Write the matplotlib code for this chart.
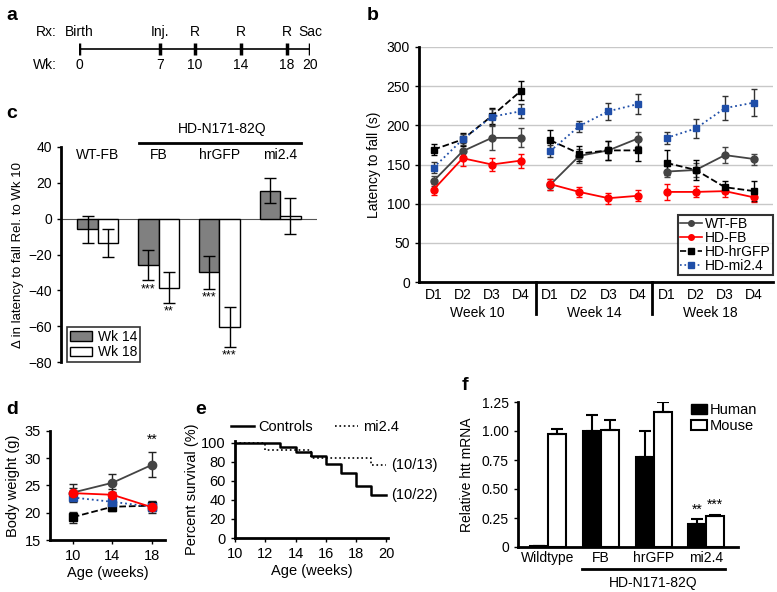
import numpy as np
import matplotlib
matplotlib.use("Agg")
import matplotlib.pyplot as plt
from matplotlib.patches import Patch
from matplotlib.lines import Line2D

plt.rcParams['font.family'] = ['Liberation Sans', 'DejaVu Sans']
plt.rcParams['font.size'] = 10

# ---- data ----
# a: timeline
tl_weeks = [0, 7, 10, 14, 18, 20]
tl_rx = ['Birth', 'Inj.', 'R', 'R', 'R', 'Sac']

# b: rotarod latency, 3 weeks x 4 days
b_days = ['D1', 'D2', 'D3', 'D4'] * 3
b_weeks = ['Week 10', 'Week 14', 'Week 18']
b_wt = [129, 167, 184, 184, 124, 161, 168, 183, 141, 143, 162, 157]
b_wt_err = [6, 10, 15, 12, 7, 9, 12, 9, 7, 9, 10, 7]
b_fb = [118, 158, 150, 155, 125, 115, 107, 110, 115, 115, 116, 108]
b_fb_err = [7, 10, 8, 9, 7, 6, 7, 7, 10, 7, 7, 6]
b_gfp = [169, 182, 212, 244, 181, 164, 168, 168, 152, 143, 121, 116]
b_gfp_err = [7, 8, 10, 12, 13, 9, 12, 13, 16, 13, 8, 13]
b_mi = [146, 182, 211, 218, 167, 199, 218, 227, 184, 196, 222, 229]
b_mi_err = [7, 7, 10, 9, 8, 7, 11, 13, 8, 12, 15, 17]

# c: change in latency rel. to wk 10
c_groups = ['WT-FB', 'FB', 'hrGFP', 'mi2.4']
c_wk14 = [-6, -26, -30, 15.5]
c_wk14_err = [7.5, 8.5, 9, 7]
c_wk18 = [-13.5, -38.5, -60.5, 1.5]
c_wk18_err = [8, 8.5, 11, 10]
c_stars14 = ['', '***', '***', '']
c_stars18 = ['', '**', '***', '']

# d: body weight
d_age = [10, 14, 18]
d_wt = [23.7, 25.5, 28.8]
d_wt_err = [1.6, 1.7, 2.3]
d_fb = [23.6, 23.3, 21.0]
d_fb_err = [1.0, 1.0, 1.0]
d_gfp = [19.2, 21.1, 21.3]
d_gfp_err = [1.0, 0.8, 0.8]
d_mi = [22.8, 22.0, 21.1]
d_mi_err = [0.8, 0.8, 0.8]

# e: survival
e_ctl_t = [10, 13, 14, 15, 16, 17, 18, 19, 20]
e_ctl_s = [100, 95.5, 90.9, 86.4, 77.3, 68.2, 54.5, 45.5, 45.5]
e_mi_t = [10, 12, 15, 19, 20]
e_mi_s = [100, 92.3, 84.6, 76.9, 76.9]

# f: relative htt mRNA
f_groups = ['Wildtype', 'FB', 'hrGFP', 'mi2.4']
f_human = [0.01, 1.00, 0.78, 0.20]
f_human_err = [0.0, 0.14, 0.22, 0.04]
f_mouse = [0.975, 1.01, 1.16, 0.265]
f_mouse_err = [0.04, 0.085, 0.09, 0.015]

W, H = 777, 592
fig = plt.figure(figsize=(W / 100, H / 100), dpi=100)


def px_axes(left, right, top, bottom):
    return fig.add_axes([left / W, (H - bottom) / H, (right - left) / W, (bottom - top) / H])


def panel_label(x, y, s):
    fig.text(x / W, 1 - y / H, s, fontsize=14, fontweight='bold', va='center', ha='left')


# ---- a ----
axa = px_axes(79, 310, 28, 70)
axa.set_xlim(0, 20)
axa.set_ylim(0, 1)
axa.axis('off')
axa.plot([0, 20], [0.5, 0.5], color='black', lw=1.2)
for w, r in zip(tl_weeks, tl_rx):
    axa.plot([w, w], [0.36, 0.64], color='black', lw=2.5, solid_capstyle='butt')
    axa.text(w, 0.9, r, ha='center', va='center')
    axa.text(w, 0.12, str(w), ha='center', va='center')
axa.text(-1.9, 0.9, 'Rx:', ha='right', va='center', clip_on=False)
axa.text(-1.9, 0.12, 'Wk:', ha='right', va='center', clip_on=False)
panel_label(6, 16, 'a')

# ---- b ----
axb = px_axes(419, 773, 47, 282)
x = np.arange(12)
styles = [
    ('WT-FB', b_wt, b_wt_err, '#444444', 'o', '-', '#444444'),
    ('HD-FB', b_fb, b_fb_err, '#ff0000', 'o', '-', '#ff0000'),
    ('HD-hrGFP', b_gfp, b_gfp_err, '#000000', 's', '--', '#000000'),
    ('HD-mi2.4', b_mi, b_mi_err, '#1f4ea8', 's', ':', '#333333'),
]
for name, vals, errs, col, mk, ls, ec in styles:
    vals = np.array(vals)
    errs = np.array(errs)
    for k in range(3):
        sl = slice(4 * k, 4 * k + 4)
        axb.errorbar(x[sl], vals[sl], yerr=errs[sl], color=col, marker=mk, ms=5,
                     ls=ls, lw=1.3, ecolor=ec, elinewidth=1, capsize=2.5, zorder=3)
axb.set_xlim(-0.5, 11.65)
axb.set_ylim(0, 300)
axb.set_yticks(range(0, 301, 50))
axb.yaxis.grid(True, color='#c8c8c8', lw=1)
axb.set_axisbelow(True)
axb.set_xticks(x)
axb.set_xticklabels(b_days)
axb.tick_params(axis='x', length=0, pad=4)
axb.tick_params(axis='y', length=3, width=1)
for s in ['top', 'right']:
    axb.spines[s].set_visible(False)
for s in ['left', 'bottom']:
    axb.spines[s].set_linewidth(2)
axb.set_ylabel('Latency to fall (s)', labelpad=4)
tb = axb.get_xaxis_transform()
for sep in [3.5, 7.5]:
    axb.plot([sep, sep], [0, -0.135], color='black', lw=2, transform=tb, clip_on=False)
for k, wl in enumerate(b_weeks):
    axb.text(4 * k + 1.5, -0.13, wl, ha='center', va='center', transform=tb)
handles = [Line2D([], [], color=c, marker=m, ls=l, ms=4, lw=1.2) for _, _, _, c, m, l, _ in styles]
leg = axb.legend(handles, [s[0] for s in styles], loc='lower right', bbox_to_anchor=(1.0, 0.03),
                 fontsize=10, frameon=True, fancybox=False, edgecolor='black', borderpad=0.15,
                 labelspacing=0.0, handlelength=1.6, handletextpad=0.2, borderaxespad=0)
leg.get_frame().set_linewidth(1.5)
panel_label(367, 16, 'b')

# ---- c ----
axc = px_axes(61, 317, 147, 362)
xc = np.arange(4)
bw = 0.33
axc.bar(xc - bw / 2, c_wk14, bw, color='#808080', edgecolor='black', lw=1, zorder=2)
axc.bar(xc + bw / 2, c_wk18, bw, color='white', edgecolor='black', lw=1, zorder=2)
axc.errorbar(xc - bw / 2, c_wk14, yerr=c_wk14_err, fmt='none', ecolor='black', elinewidth=1, capsize=4, zorder=3)
axc.errorbar(xc + bw / 2, c_wk18, yerr=c_wk18_err, fmt='none', ecolor='black', elinewidth=1, capsize=4, zorder=3)
for i in range(4):
    if c_stars14[i]:
        axc.text(xc[i] - bw / 2, c_wk14[i] - c_wk14_err[i] - 1.5, c_stars14[i], ha='center', va='top', fontsize=9)
    if c_stars18[i]:
        axc.text(xc[i] + bw / 2, c_wk18[i] - c_wk18_err[i] - 1.5, c_stars18[i], ha='center', va='top', fontsize=9)
axc.axhline(0, color='#555555', lw=0.8, zorder=1)
axc.set_xlim(-0.6, 3.6)
axc.set_ylim(-80, 40)
axc.set_yticks(range(-80, 41, 20))
axc.set_xticks([])
for s in ['top', 'right', 'bottom']:
    axc.spines[s].set_visible(False)
axc.spines['left'].set_linewidth(2)
axc.tick_params(axis='y', length=3, width=1)
axc.set_ylabel('\u0394 in latency to fall Rel. to Wk 10', fontsize=9.5, labelpad=3)
for i, g in enumerate(c_groups):
    axc.text(xc[i], 35.5, g, ha='center', va='center')
axc.plot([0.68, 3.34], [42.5, 42.5], color='black', lw=2, clip_on=False)
axc.text(2.05, 50, 'HD-N171-82Q', ha='center', va='center', clip_on=False)
leg = axc.legend([Patch(fc='#808080', ec='black'), Patch(fc='white', ec='black')], ['Wk 14', 'Wk 18'],
                 loc='lower left', bbox_to_anchor=(0.025, 0.0), fontsize=10, fancybox=False, edgecolor='black',
                 borderpad=0.2, labelspacing=0.1, handlelength=1.6, handletextpad=0.4, borderaxespad=0)
leg.get_frame().set_linewidth(1.2)
panel_label(6, 113, 'c')

# ---- d ----
axd = px_axes(50, 165, 431, 540)
for vals, errs, col, mk, ls in [(d_gfp, d_gfp_err, 'black', 's', '--'),
                                (d_mi, d_mi_err, '#1f4ea8', 's', ':'),
                                (d_wt, d_wt_err, '#444444', 'o', '-'),
                                (d_fb, d_fb_err, '#ff0000', 'o', '-')]:
    axd.errorbar(d_age, vals, yerr=errs, color=col, marker=mk, ms=6, ls=ls, lw=1.3,
                 ecolor='#222222', elinewidth=1, capsize=3, zorder=3)
axd.text(18, 29.8 + 2.3, '**', ha='center', va='bottom', fontsize=10)
axd.set_xlim(7.7, 19.3)
axd.set_ylim(15, 35)
axd.set_xticks(d_age)
axd.set_yticks(range(15, 36, 5))
for s in ['top', 'right']:
    axd.spines[s].set_visible(False)
for s in ['left', 'bottom']:
    axd.spines[s].set_linewidth(2)
axd.tick_params(length=3, width=1, labelsize=10.5)
axd.set_ylabel('Body weight (g)', fontsize=10.5, labelpad=3)
axd.set_xlabel('Age (weeks)', fontsize=10.5, labelpad=2)
panel_label(6, 410, 'd')

# ---- e ----
axe = px_axes(235, 388, 441, 538)
axe.step(e_ctl_t, e_ctl_s, where='post', color='black', lw=1.8, label='Controls')
axe.step(e_mi_t, e_mi_s, where='post', color='black', lw=1.2, ls=':', label='mi2.4')
axe.text(20.3, e_mi_s[-1], '(10/13)', ha='left', va='center', fontsize=10.5, clip_on=False)
axe.text(20.3, e_ctl_s[-1], '(10/22)', ha='left', va='center', fontsize=10.5, clip_on=False)
axe.set_xlim(10, 20.1)
axe.set_ylim(0, 102)
axe.set_xticks(range(10, 21, 2))
axe.set_yticks(range(0, 101, 20))
for s in ['top', 'right']:
    axe.spines[s].set_visible(False)
for s in ['left', 'bottom']:
    axe.spines[s].set_linewidth(2)
axe.tick_params(length=3, width=1, labelsize=10.5)
axe.set_ylabel('Percent survival (%)', fontsize=10.5, labelpad=2)
axe.set_xlabel('Age (weeks)', fontsize=10.5, labelpad=2)
axe.legend(loc='lower center', bbox_to_anchor=(0.52, 1.0), ncol=2, frameon=False, fontsize=10.5,
           handlelength=1.6, handletextpad=0.3, columnspacing=1.5, borderaxespad=0.1)
panel_label(195, 410, 'e')

# ---- f ----
axf = px_axes(518, 738, 402, 547)
xf = np.arange(4)
fw = 0.34
axf.bar(xf - fw / 2, f_human, fw, color='black', edgecolor='black', lw=1.5, zorder=2)
axf.bar(xf + fw / 2, f_mouse, fw, color='white', edgecolor='black', lw=1.5, zorder=2)
axf.errorbar(xf - fw / 2, f_human, yerr=[np.zeros(4), f_human_err], fmt='none', ecolor='black',
             elinewidth=1.5, capsize=4, capthick=1.5, zorder=3)
axf.errorbar(xf + fw / 2, f_mouse, yerr=[np.zeros(4), f_mouse_err], fmt='none', ecolor='black',
             elinewidth=1.5, capsize=4, capthick=1.5, zorder=3)
axf.text(xf[3] - fw / 2, f_human[3] + f_human_err[3] + 0.02, '**', ha='center', va='bottom', fontsize=10)
axf.text(xf[3] + fw / 2, f_mouse[3] + f_mouse_err[3] + 0.02, '***', ha='center', va='bottom', fontsize=10)
axf.set_xlim(-0.57, 3.6)
axf.set_ylim(0, 1.25)
axf.set_yticks([0, 0.25, 0.5, 0.75, 1.0, 1.25])
axf.set_yticklabels(['0', '0.25', '0.50', '0.75', '1.00', '1.25'])
axf.set_xticks(xf)
axf.set_xticklabels(f_groups)
axf.tick_params(axis='x', length=0, pad=3, labelsize=10)
axf.tick_params(axis='y', length=3, width=1, labelsize=10)
for s in ['top', 'right']:
    axf.spines[s].set_visible(False)
for s in ['left', 'bottom']:
    axf.spines[s].set_linewidth(2)
axf.set_ylabel('Relative htt mRNA', labelpad=6)
tf = axf.get_xaxis_transform()
axf.plot([0.64, 3.36], [-0.15, -0.15], color='black', lw=2, transform=tf, clip_on=False)
axf.text(2.0, -0.25, 'HD-N171-82Q', ha='center', va='center', transform=tf)
leg = axf.legend([Patch(fc='black', ec='black'), Patch(fc='white', ec='black', lw=1.5)], ['Human', 'Mouse'],
                 loc='upper left', bbox_to_anchor=(0.76, 1.03), frameon=False, fontsize=10.5,
                 handlelength=1.1, handletextpad=0.15, labelspacing=0.1, borderaxespad=0)
panel_label(462, 385, 'f')

fig.savefig('out.png', dpi=100)
